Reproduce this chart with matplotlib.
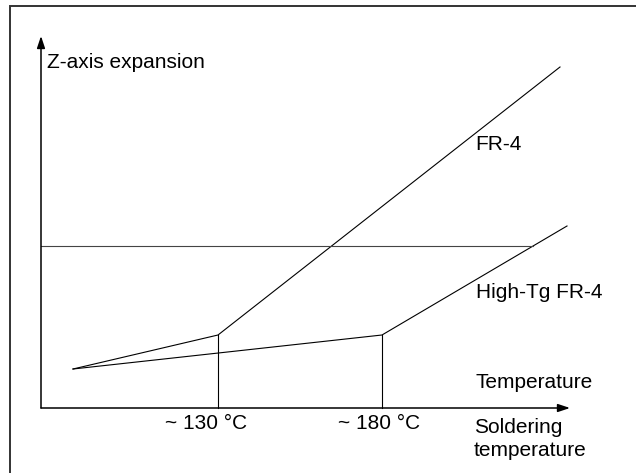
import matplotlib.pyplot as plt
from matplotlib.patches import Rectangle

plt.rcParams['font.family'] = ['Liberation Sans', 'DejaVu Sans']

# schematic coordinates, origin at the axis corner (x right, y up)
fr4_x = [32, 177, 519]
fr4_y = [39, 73, 341]
hightg_x = [32, 341, 526]
hightg_y = [39, 73, 182]
limit_y = 162
limit_x_end = 492
tg_marks = [177, 341]
tg_labels = ['~ 130 °C', '~ 180 °C']
x_axis_end = 529
y_axis_end = 372

fig = plt.figure(figsize=(6.36, 4.73), dpi=100)
ax = fig.add_axes([0, 0, 1, 1])
ax.set_xlim(-41, 595)
ax.set_ylim(-65, 408)
ax.axis('off')

# frame around the picture (only top and left inside the crop)
ax.add_patch(Rectangle((-31, -100), 700, 502, fill=False, ec='#333333', lw=1.4))

# axes with arrows
arr = dict(arrowstyle='-|>,head_length=0.6,head_width=0.2', lw=1.1, color='black',
           mutation_scale=12, shrinkA=0, shrinkB=0)
ax.annotate('', xy=(x_axis_end, 0), xytext=(0, 0), arrowprops=arr)
ax.annotate('', xy=(0, y_axis_end), xytext=(0, 0), arrowprops=arr)

ax.plot(fr4_x, fr4_y, color='black', lw=0.8)
ax.plot(hightg_x, hightg_y, color='black', lw=0.8)
ax.plot([0, limit_x_end], [limit_y, limit_y], color='#444444', lw=0.8)
for x in tg_marks:
    ax.plot([x, x], [0, fr4_y[1]], color='black', lw=0.8)

fs = 15
ax.text(6, 346, 'Z-axis expansion', fontsize=fs, va='center', ha='left')
ax.text(434, 263, 'FR-4', fontsize=fs, va='center', ha='left')
ax.text(435, 115, 'High-Tg FR-4', fontsize=fs, va='center', ha='left')
ax.text(435, 25, 'Temperature', fontsize=fs, va='center', ha='left')
ax.text(433, -31, 'Soldering\ntemperature', fontsize=fs, va='center', ha='left',
        linespacing=1.3)
for x, lab in zip([165, 338], tg_labels):
    ax.text(x, -15, lab, fontsize=fs, va='center', ha='center')

fig.savefig('out.png', dpi=100)
